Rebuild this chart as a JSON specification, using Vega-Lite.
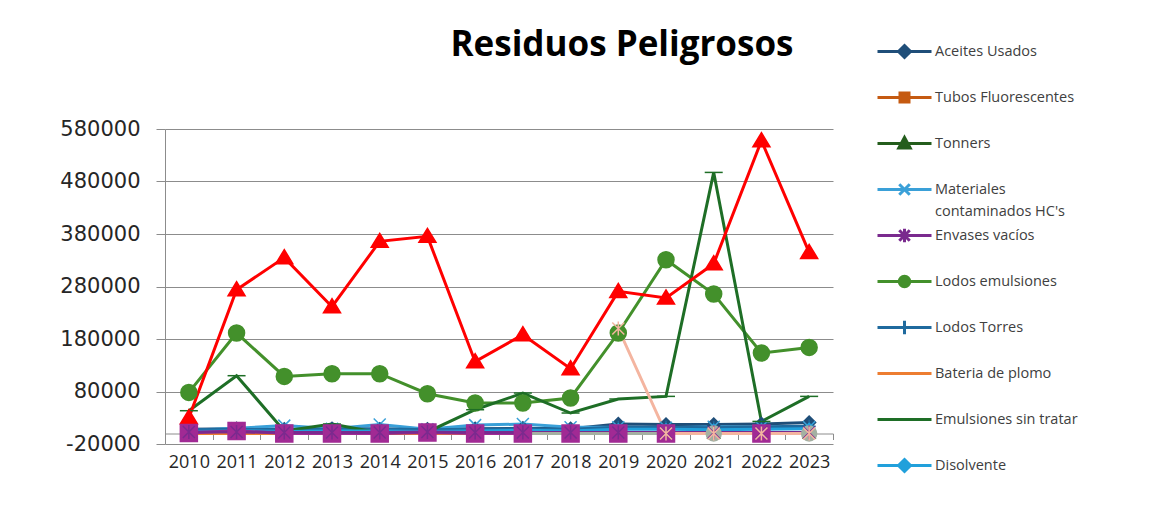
{
  "$schema": "https://vega.github.io/schema/vega-lite/v6.json",
  "autosize": "none",
  "width": 668,
  "height": 315,
  "padding": {"left": 165, "top": 129, "right": 336, "bottom": 70},
  "background": "white",
  "title": {"text": "Residuos Peligrosos", "font": "Open Sans", "fontSize": 35, "fontWeight": "bold", "color": "#000000", "anchor": "middle", "frame": "group", "dx": 123, "baseline": "alphabetic", "offset": -56},
  "config": {"view": {"stroke": null}},
  "data": {"values": [
    {"año": "2010", "Aceites Usados": 8000, "Tubos Fluorescentes": 1000, "Tonners": 0, "Materiales contaminados HC's": 6000, "Envases vacíos": 3000, "Lodos emulsiones": 78300, "Lodos Torres": 7000, "Bateria de plomo": 0, "Emulsiones sin tratar": 43400, "Disolvente": 4000, "Serie 11": 30000, "Serie 12": 1000},
    {"año": "2011", "Aceites Usados": 9000, "Tubos Fluorescentes": 1000, "Tonners": 0, "Materiales contaminados HC's": 10000, "Envases vacíos": 3000, "Lodos emulsiones": 191400, "Lodos Torres": 8000, "Bateria de plomo": 0, "Emulsiones sin tratar": 110100, "Disolvente": 5000, "Serie 11": 274000, "Serie 12": 5000},
    {"año": "2012", "Aceites Usados": 8000, "Tubos Fluorescentes": 1000, "Tonners": 0, "Materiales contaminados HC's": 15000, "Envases vacíos": 2000, "Lodos emulsiones": 108800, "Lodos Torres": 7000, "Bateria de plomo": 0, "Emulsiones sin tratar": 5000, "Disolvente": 4000, "Serie 11": 335000, "Serie 12": 0},
    {"año": "2013", "Aceites Usados": 9000, "Tubos Fluorescentes": 3000, "Tonners": 2000, "Materiales contaminados HC's": 9000, "Envases vacíos": 2000, "Lodos emulsiones": 113900, "Lodos Torres": 8000, "Bateria de plomo": 0, "Emulsiones sin tratar": 18000, "Disolvente": 5000, "Serie 11": 241500, "Serie 12": 0},
    {"año": "2014", "Aceites Usados": 8000, "Tubos Fluorescentes": 1000, "Tonners": 0, "Materiales contaminados HC's": 17000, "Envases vacíos": 2000, "Lodos emulsiones": 113900, "Lodos Torres": 9000, "Bateria de plomo": 0, "Emulsiones sin tratar": 1000, "Disolvente": 5000, "Serie 11": 366000, "Serie 12": 0},
    {"año": "2015", "Aceites Usados": 8000, "Tubos Fluorescentes": 1000, "Tonners": 0, "Materiales contaminados HC's": 8000, "Envases vacíos": 3000, "Lodos emulsiones": 75800, "Lodos Torres": 7000, "Bateria de plomo": 0, "Emulsiones sin tratar": 3000, "Disolvente": 4000, "Serie 11": 375500, "Serie 12": 2000},
    {"año": "2016", "Aceites Usados": 9000, "Tubos Fluorescentes": 1000, "Tonners": 0, "Materiales contaminados HC's": 16000, "Envases vacíos": 2000, "Lodos emulsiones": 58100, "Lodos Torres": 8000, "Bateria de plomo": 0, "Emulsiones sin tratar": 45300, "Disolvente": 5000, "Serie 11": 136800, "Serie 12": 0},
    {"año": "2017", "Aceites Usados": 10000, "Tubos Fluorescentes": 1000, "Tonners": 0, "Materiales contaminados HC's": 18000, "Envases vacíos": 2000, "Lodos emulsiones": 58100, "Lodos Torres": 9000, "Bateria de plomo": 0, "Emulsiones sin tratar": 77100, "Disolvente": 6000, "Serie 11": 188200, "Serie 12": 0, "Serie 13": 0},
    {"año": "2018", "Aceites Usados": 9000, "Tubos Fluorescentes": 1000, "Tonners": 0, "Materiales contaminados HC's": 12000, "Envases vacíos": 2000, "Lodos emulsiones": 67600, "Lodos Torres": 8000, "Bateria de plomo": 0, "Emulsiones sin tratar": 39000, "Disolvente": 5000, "Serie 11": 123400, "Serie 12": 0, "Serie 13": 0},
    {"año": "2019", "Aceites Usados": 18000, "Tubos Fluorescentes": 1000, "Tonners": 0, "Materiales contaminados HC's": 12000, "Envases vacíos": 2000, "Lodos emulsiones": 191400, "Lodos Torres": 12000, "Bateria de plomo": 0, "Emulsiones sin tratar": 65700, "Disolvente": 8000, "Serie 11": 270700, "Serie 12": 0, "Serie 13": 0, "Serie 14": 200000},
    {"año": "2020", "Aceites Usados": 17000, "Tubos Fluorescentes": 1000, "Tonners": 0, "Materiales contaminados HC's": 11000, "Envases vacíos": 2000, "Lodos emulsiones": 331000, "Lodos Torres": 12000, "Bateria de plomo": 0, "Emulsiones sin tratar": 70700, "Disolvente": 8000, "Serie 11": 258100, "Serie 12": 0, "Serie 13": 0, "Serie 14": 0},
    {"año": "2021", "Aceites Usados": 17000, "Tubos Fluorescentes": 1000, "Tonners": 0, "Materiales contaminados HC's": 13000, "Envases vacíos": 2000, "Lodos emulsiones": 265700, "Lodos Torres": 11000, "Bateria de plomo": 0, "Emulsiones sin tratar": 497300, "Disolvente": 7000, "Serie 11": 323400, "Serie 13": 0, "Serie 14": 0},
    {"año": "2022", "Aceites Usados": 18000, "Tubos Fluorescentes": 1000, "Tonners": 0, "Materiales contaminados HC's": 12000, "Envases vacíos": 2000, "Lodos emulsiones": 153300, "Lodos Torres": 13000, "Bateria de plomo": 0, "Emulsiones sin tratar": 23000, "Disolvente": 8000, "Serie 11": 557700, "Serie 12": 0, "Serie 13": 0, "Serie 14": 0},
    {"año": "2023", "Aceites Usados": 21000, "Tubos Fluorescentes": 1000, "Tonners": 0, "Materiales contaminados HC's": 12000, "Envases vacíos": 2000, "Lodos emulsiones": 164000, "Lodos Torres": 14000, "Bateria de plomo": 0, "Emulsiones sin tratar": 70700, "Disolvente": 9000, "Serie 11": 345000, "Serie 13": 0, "Serie 14": 0}
  ]},
  "transform": [
    {"fold": ["Aceites Usados", "Tubos Fluorescentes", "Tonners", "Materiales contaminados HC\\'s", "Lodos emulsiones", "Lodos Torres", "Bateria de plomo", "Emulsiones sin tratar", "Disolvente", "Serie 11", "Serie 13", "Serie 12", "Envases vacíos", "Serie 14"], "as": ["serie", "valor"]},
    {"filter": "isValid(datum.valor)"}
  ],
  "encoding": {
    "x": {"field": "año", "type": "ordinal", "title": null,
      "scale": {"type": "band", "paddingInner": 0, "paddingOuter": 0},
      "axis": {"orient": "bottom", "offset": -10.5, "tickBand": "extent", "labelAngle": 0, "labelFont": "Open Sans", "labelFontSize": 18, "labelColor": "#262626", "labelPadding": 14, "tickSize": 6, "tickColor": "#8c8c8c", "domainColor": "#8c8c8c", "grid": false}},
    "y": {"field": "valor", "type": "quantitative", "title": null,
      "scale": {"domain": [-20000, 580000], "nice": false, "zero": false},
      "axis": {"values": [-20000, 80000, 180000, 280000, 380000, 480000, 580000], "format": "d", "labelExpr": "replace(datum.label, '−', '-')", "labelFont": "DejaVu Sans", "labelFontSize": 21, "labelColor": "#262626", "labelPadding": 16, "tickSize": 9, "tickColor": "#8c8c8c", "domainColor": "#8c8c8c", "gridColor": "#8c8c8c", "gridWidth": 1}},
    "color": {"field": "serie", "type": "nominal",
      "scale": {"domain": ["Aceites Usados", "Tubos Fluorescentes", "Tonners", "Materiales contaminados HC's", "Envases vacíos", "Lodos emulsiones", "Lodos Torres", "Bateria de plomo", "Emulsiones sin tratar", "Disolvente", "Serie 11", "Serie 12", "Serie 13", "Serie 14"],
        "range": ["#1f4e79", "#c55a11", "#245d1c", "#3aa0d8", "#7a2a8e", "#43902b", "#1f6a9e", "#ed7d31", "#1e6e26", "#21a0db", "#ff0000", "#a12a94", "#a4b0a2", "#f4b5a0"]},
      "legend": {"orient": "none", "legendX": 723, "legendY": -94, "title": null, "padding": 0,
        "values": ["Aceites Usados", "Tubos Fluorescentes", "Tonners", "Materiales contaminados HC's", "Envases vacíos", "Lodos emulsiones", "Lodos Torres", "Bateria de plomo", "Emulsiones sin tratar", "Disolvente"],
        "symbolSize": 900, "symbolStrokeWidth": 3, "labelFont": "Open Sans", "labelFontSize": 14.5, "labelColor": "#404040", "labelOffset": 14, "rowPadding": 0, "labelLimit": 300,
        "labelExpr": "indexof(datum.label, 'Materiales') == 0 ? ['Materiales', substring(datum.label, 11)] : datum.label",
        "encoding": {
          "symbols": {
            "shape": {"value": {"expr": "'M0,-0.5M0,1.55M-1.8,0H1.8' + (datum.value == 'Aceites Usados' || datum.value == 'Disolvente' ? 'M0,-0.4L0.4,0L0,0.4L-0.4,0Z' : datum.value == 'Tubos Fluorescentes' ? 'M-0.3,-0.3H0.3V0.3H-0.3Z' : datum.value == 'Tonners' ? 'M0,-0.4L0.38,0.3H-0.38Z' : indexof(datum.value, 'Materiales') == 0 ? 'M-0.35,-0.35L0.35,0.35M-0.35,0.35L0.35,-0.35' : datum.value == 'Envases vacíos' ? 'M-0.35,-0.35L0.35,0.35M-0.35,0.35L0.35,-0.35M0,-0.45V0.45' : datum.value == 'Lodos emulsiones' ? 'M0.35,0A0.35,0.35 0 1,1 -0.35,0A0.35,0.35 0 1,1 0.35,0Z' : datum.value == 'Lodos Torres' ? 'M0,-0.45V0.45' : '')"}},
            "strokeWidth": {"value": 3},
            "opacity": {"value": 1},
            "fillOpacity": {"value": 1}
          },
          "labels": {"lineHeight": {"value": 22}}
        }
      }}
  },
  "layer": [
    {"mark": {"type": "line", "strokeWidth": 3}},
    {"mark": {"type": "point", "filled": true, "size": 400, "strokeWidth": 1.5, "opacity": 1},
     "encoding": {
       "shape": {"field": "serie", "type": "nominal", "legend": null,
         "scale": {"domain": ["Serie 14", "Serie 13", "Serie 12", "Serie 11", "Disolvente", "Emulsiones sin tratar", "Bateria de plomo", "Lodos Torres", "Lodos emulsiones", "Envases vacíos", "Materiales contaminados HC's", "Tonners", "Tubos Fluorescentes", "Aceites Usados"],
           "range": ["M-0.6,-0.6L0.6,0.6M-0.6,0.6L0.6,-0.6M0,-0.7V0.7", "M0.75,0A0.75,0.75 0 1,1 -0.75,0A0.75,0.75 0 1,1 0.75,0Z", "M-0.85,-0.85H0.85V0.85H-0.85Z", "M0,-0.8L0.85,0.6H-0.85Z", "M0,-0.55L0.55,0L0,0.55L-0.55,0Z", "M-0.9,0H0.9", "M-0.5,0H0.5", "M0,-0.65V0.65M-0.65,0H0.65", "M0.8,0A0.8,0.8 0 1,1 -0.8,0A0.8,0.8 0 1,1 0.8,0Z", "M-0.6,-0.6L0.6,0.6M-0.6,0.6L0.6,-0.6M0,-0.7V0.7", "M-0.6,-0.6L0.6,0.6M-0.6,0.6L0.6,-0.6", "M0,-0.6L0.6,0.45H-0.6Z", "M-0.4,-0.4H0.4V0.4H-0.4Z", "M0,-0.65L0.65,0L0,0.65L-0.65,0Z"]}},
       "stroke": {"field": "serie", "type": "nominal", "legend": null,
         "scale": {"domain": ["Serie 14", "Serie 13", "Serie 12", "Serie 11", "Disolvente", "Emulsiones sin tratar", "Bateria de plomo", "Lodos Torres", "Lodos emulsiones", "Envases vacíos", "Materiales contaminados HC's", "Tonners", "Tubos Fluorescentes", "Aceites Usados"],
           "range": ["#f4b5a0", "#a4b0a2", "#a12a94", "#ff0000", "#21a0db", "#1e6e26", "#ed7d31", "#1f6a9e", "#43902b", "#7a2a8e", "#3aa0d8", "#245d1c", "#c55a11", "#1f4e79"]}}
     }}
  ]
}
